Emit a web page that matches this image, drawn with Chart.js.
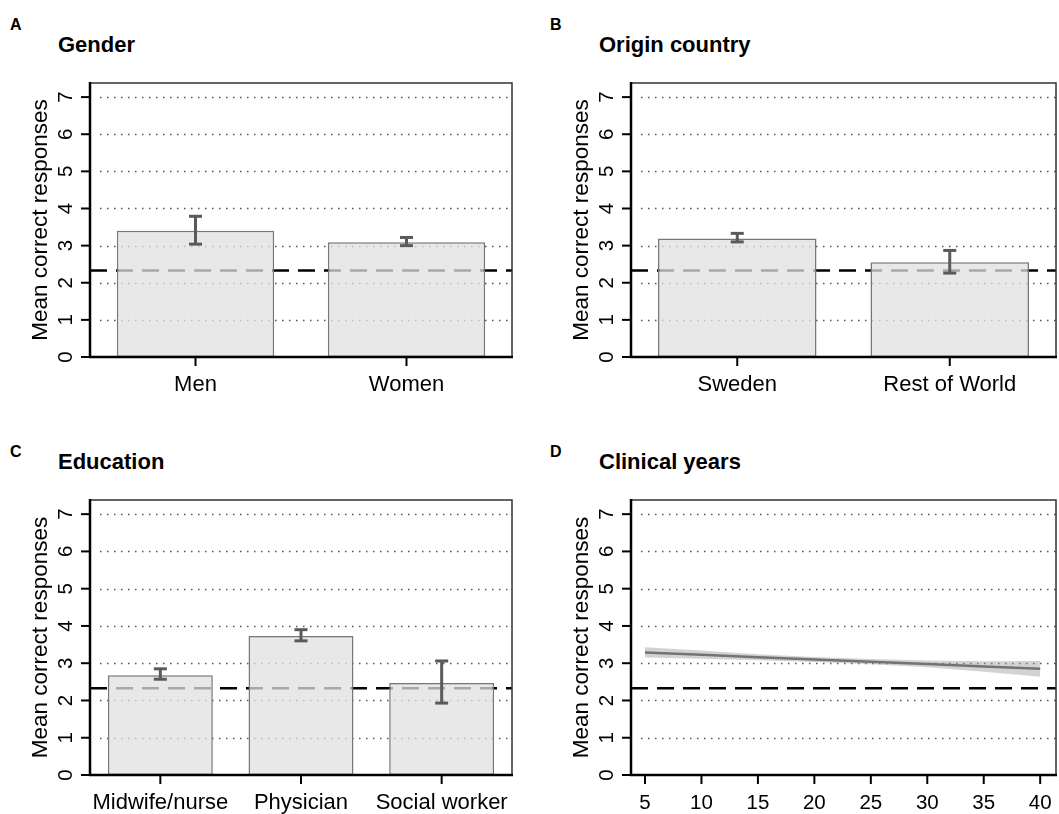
<!DOCTYPE html>
<html>
<head>
<meta charset="utf-8">
<script src="https://cdn.jsdelivr.net/npm/chart.js@4.4.1/dist/chart.umd.min.js"></script>
<style>
    html, body { margin: 0; padding: 0; background: #fff; overflow: hidden; width: 1059px; height: 814px; }
    body { position: relative; font-family: "Liberation Sans", Arial, sans-serif; color: #000; }
    .letter { position: absolute; font-weight: bold; font-size: 16px; line-height: 1; }
    .title { position: absolute; font-weight: bold; font-size: 22px; line-height: 1; white-space: nowrap; }
    canvas { position: absolute; }
</style>
</head>
<body>
<div class="letter" style="left:10px;top:17px">A</div>
<div class="title" style="left:58px;top:34px">Gender</div>
<div class="letter" style="left:550px;top:17px">B</div>
<div class="title" style="left:599px;top:34px">Origin country</div>
<div class="letter" style="left:10px;top:444px">C</div>
<div class="title" style="left:58px;top:451px">Education</div>
<div class="letter" style="left:550px;top:444px">D</div>
<div class="title" style="left:599px;top:451px">Clinical years</div>

<canvas id="chartA" width="530" height="340" style="left:0;top:70px"></canvas>
<canvas id="chartB" width="530" height="340" style="left:541px;top:70px"></canvas>
<canvas id="chartC" width="530" height="340" style="left:0;top:487px"></canvas>
<canvas id="chartD" width="530" height="340" style="left:541px;top:487px"></canvas>

<script>
// ---- data ----
const yTicks = [0, 1, 2, 3, 4, 5, 6, 7];
const yTitle = "Mean correct responses";
const chanceLevel = 2.33;

const genderLabels = ["Men", "Women"];
const genderMeans = [3.40, 3.09];
const genderLo = [3.04, 3.00];
const genderHi = [3.79, 3.22];

const originLabels = ["Sweden", "Rest of World"];
const originMeans = [3.19, 2.55];
const originLo = [3.10, 2.26];
const originHi = [3.33, 2.87];

const eduLabels = ["Midwife/nurse", "Physician", "Social worker"];
const eduMeans = [2.68, 3.73, 2.47];
const eduLo = [2.57, 3.60, 1.93];
const eduHi = [2.85, 3.90, 3.06];

const yearTicks = [5, 10, 15, 20, 25, 30, 35, 40];
const yearFit = [3.29, 3.23, 3.16, 3.10, 3.04, 2.98, 2.91, 2.85];
const yearUpper = [3.43, 3.34, 3.24, 3.17, 3.11, 3.07, 3.05, 3.06];
const yearLower = [3.15, 3.12, 3.08, 3.03, 2.97, 2.89, 2.77, 2.64];

const FONT = '"Liberation Sans", Arial, sans-serif';
const Y_MAX = 7.38;

function strokeLine(ctx, x1, y1, x2, y2) {
    ctx.beginPath();
    ctx.moveTo(x1, y1);
    ctx.lineTo(x2, y2);
    ctx.stroke();
}

// grid, chance line, error bars, frame and axis text, all placed through the chart scales
function panelDecor(cfg) {
    return {
        id: "panelDecor",
        beforeDatasetsDraw(chart) {
            const { ctx, chartArea: a, scales: { y } } = chart;
            ctx.save();
            ctx.strokeStyle = "#555";
            ctx.lineWidth = 1.5;
            ctx.setLineDash([1.5, 5.5]);
            yTicks.forEach((v) => {
                if (v === 0) return;
                const py = Math.round(y.getPixelForValue(v)) + 0.5;
                strokeLine(ctx, a.left + 10, py, a.right, py);
            });
            ctx.setLineDash([17, 9]);
            ctx.strokeStyle = "#000";
            ctx.lineWidth = 2.5;
            const cy = y.getPixelForValue(chanceLevel);
            strokeLine(ctx, a.left, cy, a.right, cy);
            ctx.restore();
        },
        afterDatasetsDraw(chart) {
            const { ctx, chartArea: a, scales: { x, y } } = chart;
            ctx.save();

            // error bars
            if (cfg.lo) {
                const meta = chart.getDatasetMeta(0);
                ctx.strokeStyle = "#5a5a5a";
                ctx.lineWidth = 3;
                meta.data.forEach((bar, i) => {
                    const yl = y.getPixelForValue(cfg.lo[i]);
                    const yh = y.getPixelForValue(cfg.hi[i]);
                    strokeLine(ctx, bar.x, yl, bar.x, yh);
                    strokeLine(ctx, bar.x - 6.5, yl, bar.x + 6.5, yl);
                    strokeLine(ctx, bar.x - 6.5, yh, bar.x + 6.5, yh);
                });
            }

            // frame
            ctx.strokeStyle = "#333";
            ctx.lineWidth = 1.5;
            ctx.strokeRect(a.left, a.top, a.right - a.left, a.bottom - a.top);
            ctx.strokeStyle = "#000";
            ctx.lineWidth = 2.5;
            strokeLine(ctx, a.left, a.top - 1, a.left, a.bottom);
            strokeLine(ctx, a.left - 1, a.bottom, a.right + 1, a.bottom);

            // y ticks + rotated labels
            ctx.lineWidth = 2;
            ctx.fillStyle = "#000";
            ctx.textAlign = "center";
            ctx.textBaseline = "middle";
            ctx.font = "20.5px " + FONT;
            yTicks.forEach((v) => {
                const py = y.getPixelForValue(v);
                strokeLine(ctx, a.left - 9, py, a.left, py);
                ctx.save();
                ctx.translate(a.left - 24, py);
                ctx.rotate(-Math.PI / 2);
                ctx.fillText(String(v), 0, 0);
                ctx.restore();
            });
            ctx.font = "22.5px " + FONT;
            ctx.save();
            ctx.translate(a.left - 49, (a.top + a.bottom) / 2);
            ctx.rotate(-Math.PI / 2);
            ctx.fillText(yTitle, 0, 0);
            ctx.restore();

            // x ticks + labels
            let xs;
            if (cfg.xValues) {
                ctx.font = "20.5px " + FONT;
                xs = cfg.xValues.map((v) => ({ px: x.getPixelForValue(v), text: String(v) }));
            } else {
                ctx.font = "22px " + FONT;
                xs = chart.getDatasetMeta(0).data.map((bar, i) => ({ px: bar.x, text: chart.data.labels[i] }));
            }
            xs.forEach((t) => {
                strokeLine(ctx, t.px, a.bottom, t.px, a.bottom + 9);
                ctx.fillText(t.text, t.px, a.bottom + 28);
            });
            ctx.restore();
        }
    };
}

function baseOptions(padRight, padBottom) {
    return {
        responsive: false,
        animation: false,
        devicePixelRatio: 1,
        layout: { padding: { left: 90, top: 13, right: padRight, bottom: padBottom } },
        plugins: { legend: { display: false }, tooltip: { enabled: false } },
        scales: {
            x: { display: false },
            y: { display: false, min: 0, max: Y_MAX }
        }
    };
}

function barChart(id, labels, means, lo, hi, padRight, padBottom) {
    const opts = baseOptions(padRight, padBottom);
    return new Chart(document.getElementById(id), {
        type: "bar",
        data: {
            labels: labels,
            datasets: [{
                data: means,
                backgroundColor: "rgba(224,224,224,0.75)",
                borderColor: "#777",
                borderWidth: 1.5,
                borderSkipped: false,
                categoryPercentage: 1,
                barPercentage: 0.746
            }]
        },
        options: opts,
        plugins: [panelDecor({ lo: lo, hi: hi })]
    });
}

barChart("chartA", genderLabels, genderMeans, genderLo, genderHi, 18, 53);
barChart("chartB", originLabels, originMeans, originLo, originHi, 15, 53);
barChart("chartC", eduLabels, eduMeans, eduLo, eduHi, 18, 52);

// Clinical years: fitted line with confidence band
const optsD = baseOptions(15, 52);
optsD.scales.x = { type: "linear", display: false, min: 3.76, max: 41.4 };
new Chart(document.getElementById("chartD"), {
    type: "line",
    data: {
        datasets: [
            {
                data: yearTicks.map((v, i) => ({ x: v, y: yearUpper[i] })),
                borderWidth: 0,
                pointRadius: 0,
                backgroundColor: "rgba(150,150,150,0.42)",
                fill: "+1"
            },
            {
                data: yearTicks.map((v, i) => ({ x: v, y: yearLower[i] })),
                borderWidth: 0,
                pointRadius: 0,
                fill: false
            },
            {
                data: yearTicks.map((v, i) => ({ x: v, y: yearFit[i] })),
                borderColor: "#5a5a5a",
                borderWidth: 2.5,
                pointRadius: 0,
                fill: false
            }
        ]
    },
    options: optsD,
    plugins: [panelDecor({ xValues: yearTicks })]
});
</script>
</body>
</html>
